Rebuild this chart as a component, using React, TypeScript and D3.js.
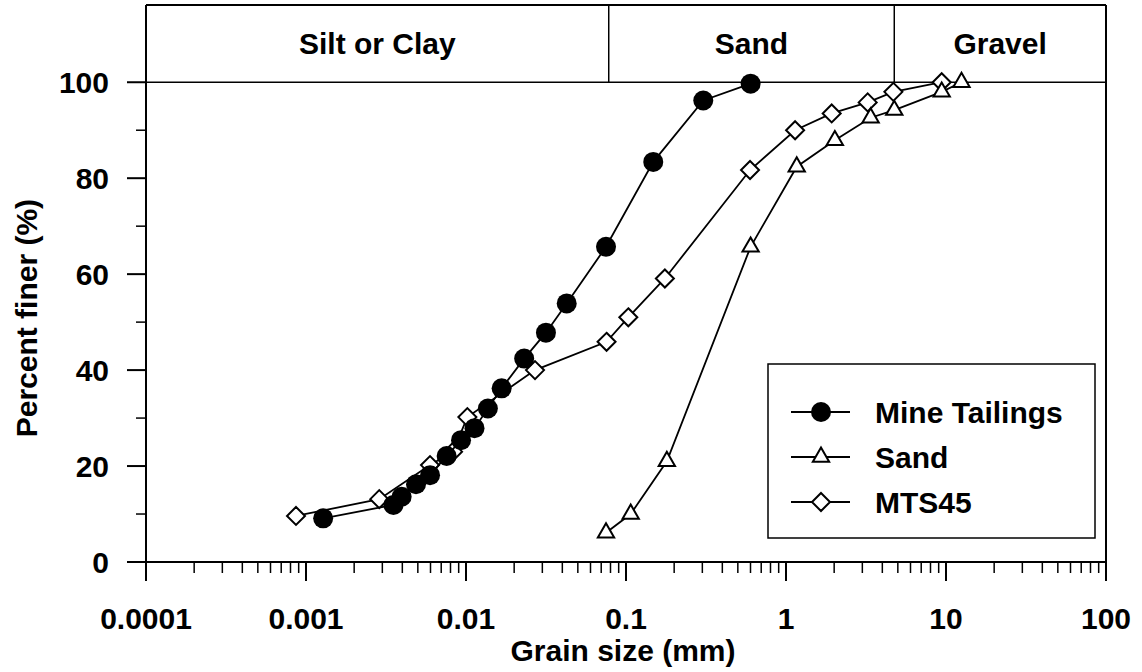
import * as React from 'react';
import { useEffect, useRef } from 'react';
import * as d3 from 'd3';

// grain size (mm) / percent finer
const tailingsSize = [0.00128, 0.00352, 0.00396, 0.00487, 0.00596, 0.00757, 0.00931, 0.0113, 0.0137, 0.0167, 0.0231, 0.0316, 0.0426, 0.075, 0.148, 0.304, 0.601];
const tailingsFiner = [9.1, 11.9, 13.6, 16.2, 18.1, 22.1, 25.4, 27.9, 32.0, 36.2, 42.4, 47.8, 53.9, 65.7, 83.4, 96.2, 99.7];

const sandSize = [0.075, 0.107, 0.18, 0.601, 1.167, 2.02, 3.38, 4.75, 9.4, 12.5];
const sandFiner = [6.1, 10.0, 21.0, 65.7, 82.4, 87.9, 92.6, 94.2, 98.0, 100];

const mtsSize = [0.000866, 0.00287, 0.00596, 0.0083, 0.0102, 0.027, 0.0756, 0.1034, 0.175, 0.596, 1.14, 1.93, 3.24, 4.69, 9.4];
const mtsFiner = [9.6, 13.1, 20.2, 23.0, 30.2, 40.0, 45.9, 51.0, 59.1, 81.7, 90.0, 93.5, 95.8, 98.0, 100];

const xTicks = [0.0001, 0.001, 0.01, 0.1, 1, 10, 100];
const xTickLabels = ['0.0001', '0.001', '0.01', '0.1', '1', '10', '100'];
const yTicks = [0, 20, 40, 60, 80, 100];
const yMinorTicks = [10, 30, 50, 70, 90];

// soil classes along the top band (boundaries in mm)
const bandNames = ['Silt or Clay', 'Sand', 'Gravel'];
const bandEdges = [0.0001, 0.078, 4.75, 100];

const legendNames = ['Mine Tailings', 'Sand', 'MTS45'];

const FONT = '"Liberation Sans", Arial, Helvetica, sans-serif';

function App() {
  const ref = useRef<SVGSVGElement>(null);

  useEffect(() => {
    const width = 1142;
    const height = 672;
    const margin = { top: 5, right: 36, bottom: 110, left: 146 };
    const innerW = width - margin.left - margin.right;
    const innerH = height - margin.top - margin.bottom;

    const svg = d3.select(ref.current);
    svg.selectAll('*').remove();
    svg.attr('width', width).attr('height', height);

    const g = svg.append('g').attr('transform', `translate(${margin.left},${margin.top})`);

    const x = d3.scaleLog().domain([0.0001, 100]).range([0, innerW]);
    const y = d3.scaleLinear().domain([0, 116.1]).range([innerH, 0]);

    // frame: top band box + right border
    g.append('line').attr('x1', 0).attr('x2', innerW).attr('y1', 0).attr('y2', 0)
      .attr('stroke', '#000').attr('stroke-width', 2);
    g.append('line').attr('x1', innerW).attr('x2', innerW).attr('y1', 0).attr('y2', innerH)
      .attr('stroke', '#000').attr('stroke-width', 2);
    g.append('line').attr('x1', 0).attr('x2', innerW).attr('y1', y(100)).attr('y2', y(100))
      .attr('stroke', '#000').attr('stroke-width', 1.5);

    bandEdges.slice(1, -1).forEach(e => {
      g.append('line').attr('x1', x(e)).attr('x2', x(e)).attr('y1', 0).attr('y2', y(100))
        .attr('stroke', '#000').attr('stroke-width', 1.5);
    });
    bandNames.forEach((name, i) => {
      g.append('text')
        .attr('x', (x(bandEdges[i]) + x(bandEdges[i + 1])) / 2)
        .attr('y', 49)
        .attr('text-anchor', 'middle')
        .attr('font-family', FONT).attr('font-weight', 'bold').attr('font-size', 30)
        .text(name);
    });

    // x axis
    const minor: number[] = [];
    for (let p = -4; p < 2; p++) {
      for (let k = 2; k <= 9; k++) minor.push(k * Math.pow(10, p));
    }
    const xa = g.append('g').attr('transform', `translate(0,${innerH})`);
    xa.append('line').attr('x1', 0).attr('x2', innerW).attr('stroke', '#000').attr('stroke-width', 2);
    xa.selectAll('.mn').data(minor).enter().append('line')
      .attr('x1', d => x(d)).attr('x2', d => x(d)).attr('y1', 0).attr('y2', 11)
      .attr('stroke', '#000').attr('stroke-width', 1.5);
    xa.selectAll('.mj').data(xTicks).enter().append('line')
      .attr('x1', d => x(d)).attr('x2', d => x(d)).attr('y1', 0).attr('y2', 19)
      .attr('stroke', '#000').attr('stroke-width', 2);
    xa.selectAll('.lb').data(xTicks).enter().append('text')
      .attr('x', d => x(d)).attr('y', 67)
      .attr('text-anchor', 'middle')
      .attr('font-family', FONT).attr('font-weight', 'bold').attr('font-size', 30)
      .text((d, i) => xTickLabels[i]);
    g.append('text')
      .attr('x', innerW / 2 - 3).attr('y', innerH + 99)
      .attr('text-anchor', 'middle')
      .attr('font-family', FONT).attr('font-weight', 'bold').attr('font-size', 30)
      .text('Grain size (mm)');

    // y axis
    const ya = g.append('g');
    ya.append('line').attr('y1', 0).attr('y2', innerH).attr('stroke', '#000').attr('stroke-width', 2);
    ya.selectAll('.mn').data(yMinorTicks).enter().append('line')
      .attr('x1', -10).attr('x2', 0).attr('y1', d => y(d)).attr('y2', d => y(d))
      .attr('stroke', '#000').attr('stroke-width', 1.5);
    ya.selectAll('.mj').data(yTicks).enter().append('line')
      .attr('x1', -19).attr('x2', 0).attr('y1', d => y(d)).attr('y2', d => y(d))
      .attr('stroke', '#000').attr('stroke-width', 2);
    ya.selectAll('.lb').data(yTicks).enter().append('text')
      .attr('x', -37).attr('y', d => y(d))
      .attr('dy', '0.36em')
      .attr('text-anchor', 'end')
      .attr('font-family', FONT).attr('font-weight', 'bold').attr('font-size', 30)
      .text(d => String(d));
    g.append('text')
      .attr('transform', `translate(${37 - margin.left},${(y(0) + y(100)) / 2 - 4}) rotate(-90)`)
      .attr('text-anchor', 'middle')
      .attr('font-family', FONT).attr('font-weight', 'bold').attr('font-size', 30)
      .text('Percent finer (%)');

    const line = d3.line<[number, number]>()
      .x(d => x(d[0]))
      .y(d => y(d[1]));

    const diamond = 'M0,-9L9,0L0,9L-9,0Z';
    const triangle = d3.symbol().type(d3.symbolTriangle).size(115)();

    const tailings: [number, number][] = tailingsSize.map((s, i) => [s, tailingsFiner[i]]);
    const sand: [number, number][] = sandSize.map((s, i) => [s, sandFiner[i]]);
    const mts: [number, number][] = mtsSize.map((s, i) => [s, mtsFiner[i]]);

    // MTS45
    g.append('path').datum(mts).attr('fill', 'none').attr('stroke', '#000').attr('stroke-width', 1.8).attr('d', line);
    g.selectAll('.mts').data(mts).enter().append('path')
      .attr('transform', d => `translate(${x(d[0])},${y(d[1])})`)
      .attr('d', diamond).attr('fill', '#fff').attr('stroke', '#000').attr('stroke-width', 2);

    // Sand
    g.append('path').datum(sand).attr('fill', 'none').attr('stroke', '#000').attr('stroke-width', 1.8).attr('d', line);
    g.selectAll('.sand').data(sand).enter().append('path')
      .attr('transform', d => `translate(${x(d[0])},${y(d[1])})`)
      .attr('d', triangle).attr('fill', '#fff').attr('stroke', '#000').attr('stroke-width', 2);

    // Mine tailings
    g.append('path').datum(tailings).attr('fill', 'none').attr('stroke', '#000').attr('stroke-width', 1.8).attr('d', line);
    g.selectAll('.mt').data(tailings).enter().append('circle')
      .attr('cx', d => x(d[0])).attr('cy', d => y(d[1])).attr('r', 10).attr('fill', '#000');

    // legend
    const lg = g.append('g').attr('transform', `translate(${768 - margin.left},${364 - margin.top})`);
    lg.append('rect').attr('width', 327).attr('height', 174)
      .attr('fill', '#fff').attr('stroke', '#000').attr('stroke-width', 1.5);
    legendNames.forEach((name, i) => {
      const cy = 48 + i * 45;
      lg.append('line').attr('x1', 23).attr('x2', 82).attr('y1', cy).attr('y2', cy)
        .attr('stroke', '#000').attr('stroke-width', 1.8);
      if (i === 0) {
        lg.append('circle').attr('cx', 53).attr('cy', cy).attr('r', 10).attr('fill', '#000');
      } else if (i === 1) {
        lg.append('path').attr('transform', `translate(53,${cy})`).attr('d', triangle)
          .attr('fill', '#fff').attr('stroke', '#000').attr('stroke-width', 2);
      } else {
        lg.append('path').attr('transform', `translate(53,${cy})`).attr('d', diamond)
          .attr('fill', '#fff').attr('stroke', '#000').attr('stroke-width', 2);
      }
      lg.append('text')
        .attr('x', 107).attr('y', cy).attr('dy', '0.36em')
        .attr('font-family', FONT).attr('font-weight', 'bold').attr('font-size', 30)
        .text(name);
    });
  }, []);

  return (
    <svg ref={ref} style={{ position: 'absolute', left: 0, top: 0, background: '#fff' }}></svg>
  );
}

export default App;
